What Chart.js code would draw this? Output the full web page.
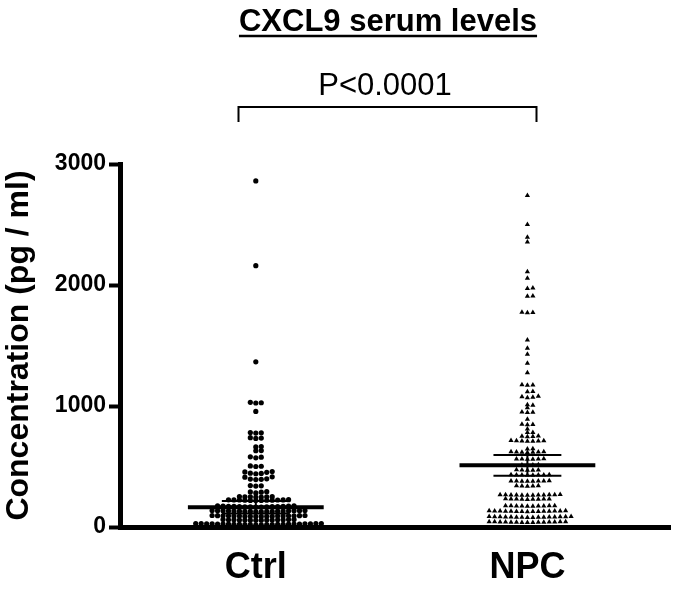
<!DOCTYPE html>
<html>
<head>
<meta charset="utf-8">
<title>CXCL9 serum levels</title>
<script src="https://cdn.jsdelivr.net/npm/chart.js@4.4.1/dist/chart.umd.min.js"></script>
<style>
    html, body { margin: 0; padding: 0; background: #fff; }
    canvas { display: block; }
</style>
</head>
<body>
<canvas id="cxcl9Chart" width="674" height="589"></canvas>
<script>
// Groupes et valeurs (pg / ml)
const groups = ['Ctrl', 'NPC'];

const ctrlValues = [
    2860, 2160, 1365,
    1030, 1027, 1025, 955,
    780, 778, 776, 738, 735, 732,
    665, 662, 632, 630,
    580, 577, 572,
    505, 502, 500,
    458, 455, 452, 445, 443, 440,
    415, 412, 398, 396, 394, 392,
    342, 340, 338,
    292, 290, 288, 282,
    252, 251, 250, 250, 249, 248, 247,
    226, 225, 224, 224, 223, 223, 222, 222, 221, 220, 220, 219,
    175, 174, 173, 172, 171, 170, 170, 169, 168, 168, 167, 166, 166, 165, 165,
    136, 136, 135, 135, 134, 134, 133, 133, 132, 132, 131, 131, 130, 130, 129, 129, 128, 128,
    95, 95, 94, 94, 93, 93, 92, 92, 91, 91, 90, 90, 89, 89, 88, 88, 87, 87,
    62, 61, 61, 60, 60, 59, 59, 58, 58, 57, 57, 56, 56, 55,
    29, 29, 28, 28, 27, 27, 26, 26, 25, 25, 24, 24, 23, 23, 22, 22, 21, 21, 20, 20, 19, 19, 18, 18
];

const npcValues = [
    2740, 2500, 2395, 2355, 2110, 2055, 1975, 1972, 1910, 1907, 1775, 1772, 1770,
    1545, 1477, 1427, 1353, 1275,
    1176, 1174, 1172, 1120, 1118,
    1080, 1076, 1072, 1068,
    1010, 1006, 985,
    950, 948, 946,
    890, 850, 848, 846, 810, 782, 780,
    752, 750, 748, 746,
    714, 713, 712, 711, 710, 709, 708,
    646, 644,
    622, 621, 620, 619, 618, 617, 616,
    564, 563, 562, 561, 560, 559,
    514, 513, 512, 511,
    473, 472, 471, 470, 469,
    432, 431, 430, 430, 429, 429, 428, 427,
    382, 381, 381, 380, 380, 379, 379, 378,
    341, 340, 339, 338, 337,
    268, 267, 267, 266, 266, 265, 265, 264, 264, 263, 263, 262,
    233, 232, 232, 231, 231, 230, 230, 229, 228,
    176, 176, 175, 175, 174, 174, 173, 173, 172, 172,
    134, 134, 133, 133, 132, 132, 131, 131, 130, 130, 129, 129, 128, 128, 127,
    86, 86, 85, 85, 84, 84, 83, 83, 82, 82, 81, 81, 80, 80, 79, 79,
    44, 44, 43, 43, 42, 42, 41, 41, 40, 40, 39, 39, 38, 38, 37
];

// Moyenne et barres d'erreur
const groupMeans = [163, 510];
const groupErrors = [52, 86];

const yTicks = [0, 1000, 2000, 3000];
const pValueLabel = 'P<0.0001';

const FONT = "'Liberation Sans', Arial, sans-serif";

// Disposition "beeswarm" : colonnes fixes, un point par colonne et par rangée
const COL_PX = 5.5;
const ROW_PX = 3;
const X_PX_PER_UNIT = 273.5;
const Y_PX_PER_UNIT = 363 / 3000;

function swarm(values, center) {
    const sorted = values.slice().sort((a, b) => a - b);
    const lastY = {};
    return sorted.map(v => {
        const yp = v * Y_PX_PER_UNIT;
        for (let k = 0; ; k++) {
            const cols = k === 0 ? [0] : [k, -k];
            for (const c of cols) {
                if (lastY[c] === undefined || yp - lastY[c] >= ROW_PX) {
                    lastY[c] = yp;
                    return { x: center + c * COL_PX / X_PX_PER_UNIT, y: v };
                }
            }
        }
    });
}

function segment(data, width) {
    return {
        data: data,
        showLine: true,
        borderColor: '#000',
        borderWidth: width,
        pointRadius: 0,
        borderCapStyle: 'butt'
    };
}

// Moyenne (trait long) + erreur (traits courts + trait vertical)
function errorBarSets(center, mean, err) {
    return [
        segment([{ x: center - 0.25, y: mean }, { x: center + 0.25, y: mean }], 4),
        segment([{ x: center - 0.125, y: mean + err }, { x: center + 0.125, y: mean + err }], 2),
        segment([{ x: center - 0.125, y: mean - err }, { x: center + 0.125, y: mean - err }], 2),
        segment([{ x: center, y: mean - err }, { x: center, y: mean + err }], 2)
    ];
}

// Titre, p-value et crochet
const annotations = {
    id: 'annotations',
    afterDraw(chart) {
        const ctx = chart.ctx;
        const xs = chart.scales.x;
        ctx.save();
        ctx.fillStyle = '#000';
        ctx.strokeStyle = '#000';
        ctx.textAlign = 'center';
        ctx.textBaseline = 'alphabetic';

        ctx.font = 'bold 31px ' + FONT;
        const title = 'CXCL9 serum levels';
        ctx.fillText(title, 388, 31);
        const w = ctx.measureText(title).width;
        ctx.lineWidth = 2.5;
        ctx.beginPath();
        ctx.moveTo(388 - w / 2, 36);
        ctx.lineTo(388 + w / 2, 36);
        ctx.stroke();

        ctx.font = '31px ' + FONT;
        ctx.fillText(pValueLabel, 385, 95);

        const x1 = Math.round(xs.getPixelForValue(0.935)) + 0.5;
        const x2 = Math.round(xs.getPixelForValue(2.03)) + 0.5;
        ctx.lineWidth = 2;
        ctx.beginPath();
        ctx.moveTo(x1, 122);
        ctx.lineTo(x1, 107);
        ctx.lineTo(x2, 107);
        ctx.lineTo(x2, 122);
        ctx.stroke();
        ctx.restore();
    }
};

const datasets = [
    ...errorBarSets(1, groupMeans[0], groupErrors[0]),
    ...errorBarSets(2, groupMeans[1], groupErrors[1]),
    {
        label: groups[0],
        data: swarm(ctrlValues, 1),
        pointStyle: 'circle',
        pointRadius: 2.6,
        backgroundColor: '#000',
        borderWidth: 0
    },
    {
        label: groups[1],
        data: swarm(npcValues, 2),
        pointStyle: 'triangle',
        pointRadius: 3,
        backgroundColor: '#000',
        borderWidth: 0
    }
];

new Chart(document.getElementById('cxcl9Chart'), {
    type: 'scatter',
    data: { datasets: datasets },
    options: {
        responsive: false,
        animation: false,
        devicePixelRatio: 1,
        layout: { padding: { top: 164, right: 0, bottom: 0, left: 0 } },
        plugins: {
            legend: { display: false },
            tooltip: { enabled: false }
        },
        scales: {
            x: {
                type: 'linear',
                min: 0.5,
                max: 2.525,
                afterBuildTicks: scale => { scale.ticks = [{ value: 1 }, { value: 2 }]; },
                afterFit: scale => { scale.height = 62; },
                ticks: {
                    callback: v => groups[v - 1],
                    color: '#000',
                    font: { family: FONT, size: 36, weight: 'bold' },
                    padding: 19,
                    maxRotation: 0
                },
                grid: { display: false, drawTicks: false },
                border: { display: true, color: '#000', width: 5 }
            },
            y: {
                min: 0,
                max: 3000,
                afterBuildTicks: scale => { scale.ticks = yTicks.map(v => ({ value: v })); },
                afterFit: scale => { scale.width = 120; },
                ticks: {
                    callback: v => String(v),
                    color: '#000',
                    font: { family: FONT, size: 23, weight: 'bold' },
                    padding: 3
                },
                grid: {
                    drawOnChartArea: false,
                    drawTicks: true,
                    tickLength: 11,
                    tickWidth: 4,
                    tickColor: '#000'
                },
                border: { display: true, color: '#000', width: 5 },
                title: {
                    display: true,
                    text: 'Concentration (pg / ml)',
                    color: '#000',
                    font: { family: FONT, size: 32, weight: 'bold' },
                    padding: { top: 0, bottom: 0 }
                }
            }
        }
    },
    plugins: [annotations]
});
</script>
</body>
</html>
